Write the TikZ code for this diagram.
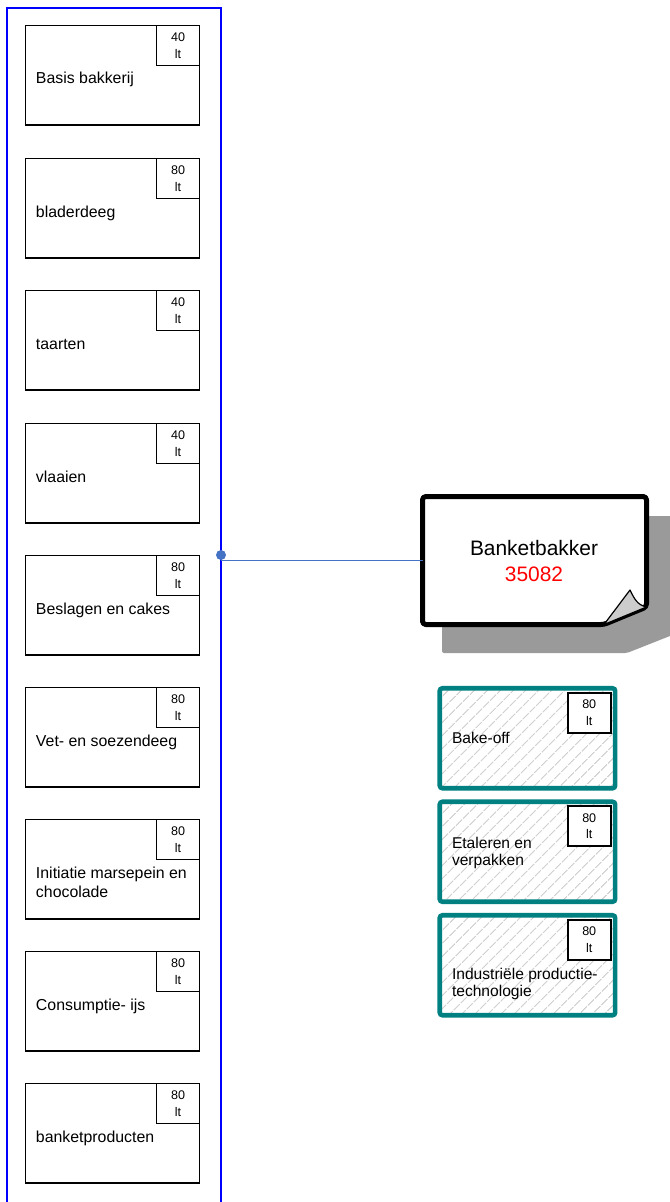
\documentclass[tikz,border=0pt]{standalone}
\usepackage{fontspec}
\setmainfont{Liberation Sans}
\usetikzlibrary{patterns.meta}
\definecolor{tealc}{HTML}{008080}
\definecolor{connc}{HTML}{4472C4}
\definecolor{shadowc}{HTML}{9A9A9A}
\definecolor{flapc}{HTML}{CCCCCC}
\definecolor{hatchc}{HTML}{B8B8B8}
\begin{document}
\begin{tikzpicture}[x=0.75pt,y=-0.75pt,
  every node/.style={outer sep=0pt},
  colbox/.style={draw=blue, line width=1.5pt, minimum width=160.5pt, minimum height=912pt, inner sep=0pt, anchor=north west},
  lbox/.style={draw, line width=1.45pt, minimum width=130.5pt, minimum height=74.5pt, inner sep=0pt, anchor=north west},
  sbox/.style={draw, fill=white, line width=1.2pt, minimum width=32.25pt, minimum height=30pt, inner sep=0pt, align=center, font=\fontsize{9.4}{12.5}\selectfont, anchor=north east},
  llbl/.style={anchor=base west, inner sep=0pt, align=left, font=\fontsize{11.9}{14.25}\selectfont},
  hbox/.style={draw=tealc, line width=3.4pt, rounded corners=2pt, pattern={Lines[angle=45,distance=6.9pt,line width=0.7pt]}, pattern color=hatchc, minimum width=131.6pt, minimum height=75pt, inner sep=0pt, anchor=north west},
  hlbl/.style={anchor=base west, inner sep=0pt, align=left, font=\fontsize{11.7}{12.75}\selectfont},
  conn/.style={draw=connc, line width=0.8pt},
  bbtext/.style={font=\fontsize{15.7}{20}\selectfont, align=center, anchor=base, inner sep=0pt}
]
\useasboundingbox (0,0) rectangle (670,1202);
\clip (0,0) rectangle (670,1202);

% blue column
\node[colbox] (col) at (7,8) {};

% left boxes (label anchor = baseline of its last line)
\foreach \k/\y/\num/\dy/\txt in {1/25.5/40/58.5/Basis bakkerij, 2/158.5/80/58.5/bladerdeeg, 3/290.5/40/58.5/taarten, 4/423.5/40/58.5/vlaaien, 5/555.5/80/58.5/Beslagen en cakes, 6/687.5/80/58.5/Vet- en soezendeeg, 7/819.5/80/77.5/{Initiatie marsepein en\\chocolade}, 8/951.5/80/58.5/Consumptie- ijs, 9/1083.5/80/58.5/banketproducten}{
  \node[lbox] (b\k) at (25.5,\y) {};
  \node[sbox] (b\k s) at (b\k.north east) {\num\\lt};
  \node[llbl] (b\k l) at ([shift={(10.5,\dy)}]b\k.north west) {\txt};
}

% shadow, body and flap of Banketbakker
\fill[shadowc, rounded corners=1.5pt] (442,516) -- (680,516) -- (680,632) -- (627,653) -- (442,653) -- cycle;
\draw[line width=3.75pt, fill=white, rounded corners=2.5pt, line join=round] (422.5,496.5) -- (646.5,496.5) -- (646.5,607) -- (604,624.5) -- (422.5,624.5) -- cycle;
\draw[line width=0.9pt, fill=flapc, line join=round] (604,624.5) -- (630,590) .. controls (634,598) and (637,605) .. (646.5,607) -- cycle;
\node[minimum width=168pt, minimum height=96pt, inner sep=0pt] (bb) at (534.5,560.5) {};
\node[bbtext] (bbt) at (534,581.7) {Banketbakker\\\textcolor{red}{35082}};

% connector
\coordinate (dot) at (221,555);
\draw[conn] (bb.west) -- (bb.west -| dot);
\fill[connc] (dot) circle[radius=3.75pt];

% hatched boxes
\foreach \k/\y/\dy/\txt in {1/688.25/54.75/Bake-off, 2/801.75/63.25/{Etaleren en\\verpakken}, 3/915.25/81.45/{Industriële productie-\\technologie}}{
  \node[hbox] (h\k) at (439.75,\y) {};
  \node[sbox] (h\k s) at ([shift={(-4.5,4.5)}]h\k.north east) {80\\lt};
  \node[hlbl] (h\k l) at ([shift={(12.25,\dy)}]h\k.north west) {\txt};
}
\end{tikzpicture}
\end{document}
